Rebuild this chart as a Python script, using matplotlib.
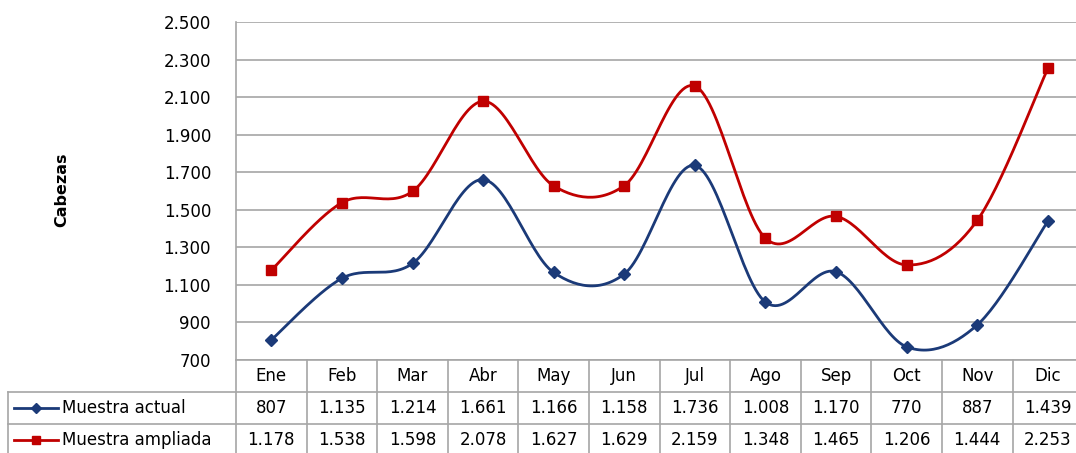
import numpy as np
import matplotlib.pyplot as plt
from matplotlib.lines import Line2D

meses = ["Ene", "Feb", "Mar", "Abr", "May", "Jun", "Jul", "Ago", "Sep", "Oct", "Nov", "Dic"]
actual = [807, 1135, 1214, 1661, 1166, 1158, 1736, 1008, 1170, 770, 887, 1439]
ampliada = [1178, 1538, 1598, 2078, 1627, 1629, 2159, 1348, 1465, 1206, 1444, 2253]
series_names = ["Muestra actual", "Muestra ampliada"]
yticks = np.arange(700, 2501, 200)


def fmt(v):
    return f"{v:,}".replace(",", ".")


def smooth(x, y, n=30):
    # curva tipo Excel (bezier con puntos de control catmull-rom)
    x = np.asarray(x, float)
    y = np.asarray(y, float)
    px = np.concatenate([[x[0]], x, [x[-1]]])
    py = np.concatenate([[y[0]], y, [y[-1]]])
    xs, ys = [], []
    t = np.linspace(0, 1, n)
    for i in range(1, len(px) - 2):
        p0 = np.array([px[i], py[i]])
        p3 = np.array([px[i + 1], py[i + 1]])
        p1 = p0 + (np.array([px[i + 1], py[i + 1]]) - np.array([px[i - 1], py[i - 1]])) / 6
        p2 = p3 - (np.array([px[i + 2], py[i + 2]]) - np.array([px[i], py[i]])) / 6
        b = (((1 - t) ** 3)[:, None] * p0 + (3 * (1 - t) ** 2 * t)[:, None] * p1
             + (3 * (1 - t) * t ** 2)[:, None] * p2 + (t ** 3)[:, None] * p3)
        xs.extend(b[:, 0])
        ys.extend(b[:, 1])
    return np.array(xs), np.array(ys)


W, H = 1076, 453
fs = 12
fig = plt.figure(figsize=(W / 100, H / 100), dpi=100)
left, right, top, bottom = 236, 236 + 12 * 70.6, 22, 360
ax = fig.add_axes([left / W, 1 - bottom / H, (right - left) / W, (bottom - top) / H])

grid_c = "#a6a6a6"
colors = ["#1b3a78", "#c00000"]
markers = ["D", "s"]
msizes = [6, 7]

x = np.arange(len(meses))
for vals, c, m, ms in zip([actual, ampliada], colors, markers, msizes):
    sx, sy = smooth(x, vals)
    ax.plot(sx, sy, color=c, lw=2.0, zorder=3)
    ax.plot(x, vals, linestyle="none", marker=m, ms=ms, color=c, zorder=4)

ax.set_xlim(-0.5, 11.5)
ax.set_ylim(700, 2500)
ax.set_yticks(yticks)
ax.set_yticklabels([fmt(v) for v in yticks], fontsize=fs)
ax.tick_params(axis="y", length=0, pad=18)
ax.set_xticks([])
ax.grid(axis="y", color=grid_c, lw=1.2)
for s in ["top", "right", "bottom"]:
    ax.spines[s].set_visible(False)
ax.spines["left"].set_color(grid_c)
ax.spines["left"].set_linewidth(1.2)
ax.set_axisbelow(True)

fig.text(62 / W, 1 - 190 / H, "Cabezas", rotation=90, fontsize=11.5, fontweight="bold",
         ha="center", va="center")

# tabla de datos
ph = bottom - top
row = 32 / ph
tr = ax.get_xaxis_transform()
lw = 1.2
# lineas horizontales
ax.add_line(Line2D([-0.5, 11.5], [0, 0], transform=tr, color=grid_c, lw=lw, clip_on=False))
leg_x0 = -0.5 - (left - 8) / 70.6
for k in [1, 2, 3]:
    ax.add_line(Line2D([leg_x0, 11.5], [-row * k, -row * k], transform=tr, color=grid_c,
                       lw=lw, clip_on=False))
# lineas verticales
for k in range(13):
    ax.add_line(Line2D([k - 0.5, k - 0.5], [0, -3 * row], transform=tr, color=grid_c,
                       lw=lw, clip_on=False))
ax.add_line(Line2D([leg_x0, leg_x0], [-row, -3 * row], transform=tr, color=grid_c,
                   lw=lw, clip_on=False))

for i, mes in enumerate(meses):
    ax.text(i, -row * 0.5, mes, transform=tr, ha="center", va="center", fontsize=fs)
    ax.text(i, -row * 1.5, fmt(actual[i]), transform=tr, ha="center", va="center", fontsize=fs)
    ax.text(i, -row * 2.5, fmt(ampliada[i]), transform=tr, ha="center", va="center", fontsize=fs)

sample_x0 = -0.5 - (left - 14) / 70.6
sample_x1 = -0.5 - (left - 58) / 70.6
for r, (name, c, m, ms) in enumerate(zip(series_names, colors, markers, msizes)):
    yy = -row * (1.5 + r)
    ax.add_line(Line2D([sample_x0, sample_x1], [yy, yy], transform=tr, color=c, lw=2,
                       clip_on=False))
    ax.add_line(Line2D([(sample_x0 + sample_x1) / 2], [yy], transform=tr, color=c,
                       marker=m, ms=ms - 1, clip_on=False))
    ax.text(sample_x1 + 0.05, yy, name, transform=tr, ha="left", va="center", fontsize=fs)

fig.savefig("out.png", dpi=100)
